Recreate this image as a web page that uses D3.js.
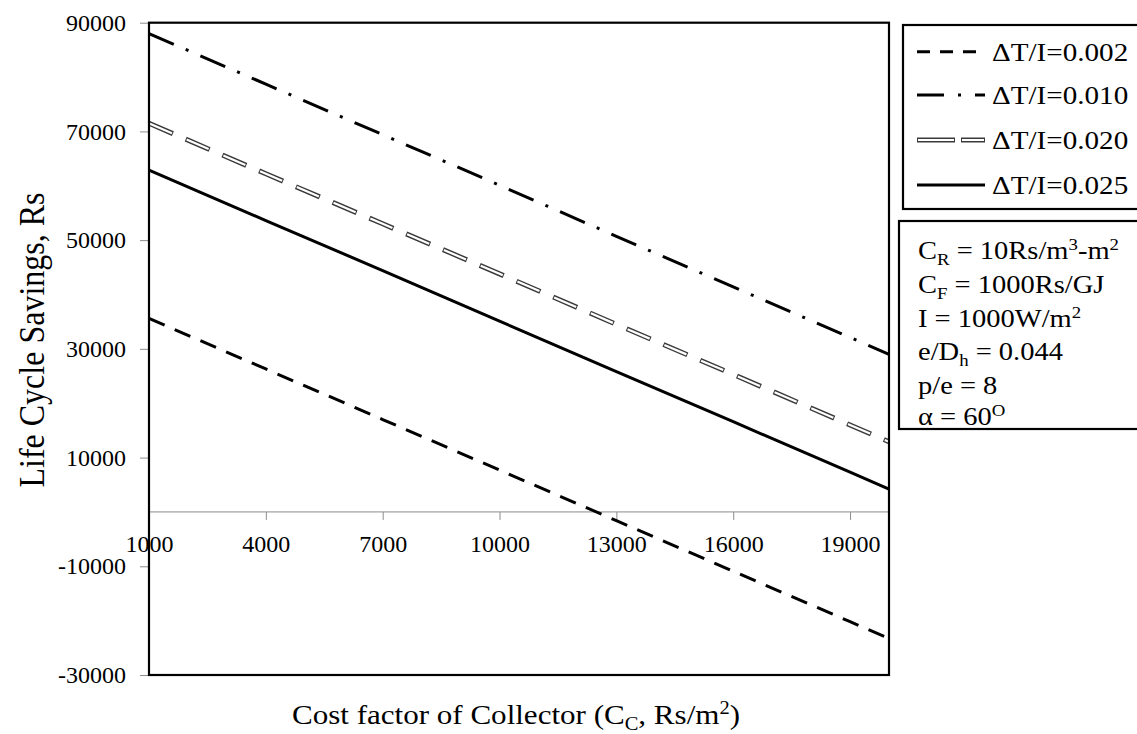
<!DOCTYPE html>
<html><head><meta charset="utf-8">
<script src="https://cdn.jsdelivr.net/npm/d3@7"></script>
<style>
body{margin:0;background:#fff}
svg{display:block}
text{font-family:"Liberation Serif","Times New Roman",serif;fill:#000}
</style>
</head><body>
<svg id="c" width="1137" height="734"></svg>
<script>
// ---- data ----
const xValues = [1000, 4000, 7000, 10000, 13000, 16000, 19000, 20000];
const lcs002 = [35600, 26300, 17000, 7700, -1600, -10900, -20200, -23300];
const lcs010 = [88000, 78700, 69400, 60100, 50700, 41400, 32100, 29000];
const lcs020 = [71500, 62200, 53000, 43800, 34500, 25300, 16000, 12900];
const lcs025 = [62900, 53600, 44400, 35100, 25800, 16600, 7300, 4200];
const seriesNames = ["\u0394T/I=0.002", "\u0394T/I=0.010", "\u0394T/I=0.020", "\u0394T/I=0.025"];
const xTicks = [1000, 4000, 7000, 10000, 13000, 16000, 19000];
const yTicks = [-30000, -10000, 10000, 30000, 50000, 70000, 90000];
const xDomain = [1000, 20000];
const yDomain = [-30000, 90000];
const yTitle = "Life Cycle Savings, Rs";
const paramLines = [
  [{t:"C"},{t:"R",sub:1},{t:" = 10Rs/m"},{t:"3",sup:1},{t:"-m"},{t:"2",sup:1}],
  [{t:"C"},{t:"F",sub:1},{t:" = 1000Rs/GJ"}],
  [{t:"I = 1000W/m"},{t:"2",sup:1}],
  [{t:"e/D"},{t:"h",sub:1},{t:" = 0.044"}],
  [{t:"p/e = 8"}],
  [{t:"\u03b1 = 60"},{t:"O",sup:1}]
];
const xTitleSegs = [{t:"Cost factor of Collector (C"},{t:"C",sub:1},{t:", Rs/m"},{t:"2",sup:1},{t:")"}];

// ---- layout ----
const svg = d3.select("#c");
const L = 149, R = 889, T = 22.7, B = 675;
const x = d3.scaleLinear().domain(xDomain).range([L, R]);
const y = d3.scaleLinear().domain(yDomain).range([B, T]);
const gray = "#8c8c8c";
const fmt = d => String(d);  // plain hyphen-minus

function rich(parent, xx, yy, segs, size, anchor, sx) {
  const g = parent.append("g").attr("transform", `translate(${xx},${yy}) scale(${sx || 1},1)`);
  const t = g.append("text").attr("x", 0).attr("y", 0).attr("font-size", size);
  if (anchor) t.attr("text-anchor", anchor);
  let off = 0;
  segs.forEach(s => {
    const ts = t.append("tspan").text(s.t);
    let target = 0;
    if (s.sub) { target = size * 0.24; ts.attr("font-size", size * 0.66); }
    else if (s.sup) { target = -size * 0.36; ts.attr("font-size", size * 0.66); }
    if (target !== off) { ts.attr("dy", target - off); off = target; }
  });
  return t;
}

// y axis ticks (left)
const yAxis = d3.axisLeft(y).tickValues(yTicks).tickSize(9).tickPadding(14).tickFormat(fmt);
const gy = svg.append("g").attr("transform", `translate(${L},0)`).call(yAxis);
gy.select(".domain").remove();
gy.selectAll(".tick line").attr("stroke", gray);
gy.selectAll(".tick text").attr("font-size", 24).attr("font-family", "Liberation Serif").attr("fill", "#000");

// x axis at y=0
const xAxis = d3.axisBottom(x).tickValues(xTicks).tickSize(8).tickPadding(15).tickFormat(fmt);
const gx = svg.append("g").attr("transform", `translate(0,${y(0)})`).call(xAxis);
gx.select(".domain").remove();
gx.append("line").attr("x1", L).attr("x2", R).attr("y1", 0).attr("y2", 0).attr("stroke", gray).attr("stroke-width", 1);
gx.selectAll(".tick line").attr("stroke", gray);
gx.selectAll(".tick text").attr("font-size", 24).attr("font-family", "Liberation Serif").attr("fill", "#000");

// series
const line = d3.line().x((d, i) => x(xValues[i])).y(d => y(d));
const plot = svg.append("g");
plot.append("path").datum(lcs002).attr("d", line).attr("fill", "none")
  .attr("stroke", "#000").attr("stroke-width", 3).attr("stroke-dasharray", "17,11");
plot.append("path").datum(lcs010).attr("d", line).attr("fill", "none")
  .attr("stroke", "#000").attr("stroke-width", 3).attr("stroke-dasharray", "27,13,3,13");
plot.append("path").datum(lcs020).attr("d", line).attr("fill", "none")
  .attr("stroke", "#3a3a3a").attr("stroke-width", 5).attr("stroke-dasharray", "26,14").attr("stroke-linecap", "butt");
plot.append("path").datum(lcs020).attr("d", line).attr("fill", "none")
  .attr("stroke", "#fff").attr("stroke-width", 2.2).attr("stroke-dasharray", "24,16").attr("stroke-dashoffset", -1);
plot.append("path").datum(lcs025).attr("d", line).attr("fill", "none")
  .attr("stroke", "#000").attr("stroke-width", 3);

// plot border
svg.append("rect").attr("x", L).attr("y", T).attr("width", R - L).attr("height", B - T)
  .attr("fill", "none").attr("stroke", "#000").attr("stroke-width", 2.2);

// y title
svg.append("g").attr("transform", `translate(44,340) scale(1.12,1) rotate(-90)`)
  .append("text").attr("text-anchor", "middle").attr("font-size", 32).text(yTitle);

// x title
rich(svg, (L + R) / 2 - 3, 724, xTitleSegs, 27, "middle", 1.15);

// legend box
const lg = svg.append("g");
lg.append("rect").attr("x", 903).attr("y", 25).attr("width", 300).attr("height", 184)
  .attr("fill", "#fff").attr("stroke", "#000").attr("stroke-width", 2.2);
const rows = [51.7, 95, 140, 185];
const lx1 = 917, lx2 = 985;
lg.append("line").attr("x1", lx1).attr("x2", lx2).attr("y1", rows[0]).attr("y2", rows[0])
  .attr("stroke", "#000").attr("stroke-width", 3).attr("stroke-dasharray", "13,10");
lg.append("line").attr("x1", lx1).attr("x2", lx2).attr("y1", rows[1]).attr("y2", rows[1])
  .attr("stroke", "#000").attr("stroke-width", 3).attr("stroke-dasharray", "27,14,3,14");
lg.append("line").attr("x1", lx1).attr("x2", lx2).attr("y1", rows[2]).attr("y2", rows[2])
  .attr("stroke", "#3a3a3a").attr("stroke-width", 5).attr("stroke-dasharray", "38,6");
lg.append("line").attr("x1", lx1 + 1).attr("x2", lx2 - 1).attr("y1", rows[2]).attr("y2", rows[2])
  .attr("stroke", "#fff").attr("stroke-width", 2.2).attr("stroke-dasharray", "36,8");
lg.append("line").attr("x1", lx1).attr("x2", lx2).attr("y1", rows[3]).attr("y2", rows[3])
  .attr("stroke", "#000").attr("stroke-width", 3);
seriesNames.forEach((n, i) => {
  lg.append("g").attr("transform", `translate(992,${rows[i] + 9}) scale(1.12,1)`)
    .append("text").attr("font-size", 26).text(n);
});

// parameter box
const pg = svg.append("g");
pg.append("rect").attr("x", 899).attr("y", 221).attr("width", 300).attr("height", 208)
  .attr("fill", "#fff").attr("stroke", "#000").attr("stroke-width", 2.2);
const pBase = [259, 293, 327, 360, 394, 425];
paramLines.forEach((segs, i) => rich(pg, 918, pBase[i], segs, 25, null, 1.14));
</script>
</body></html>
